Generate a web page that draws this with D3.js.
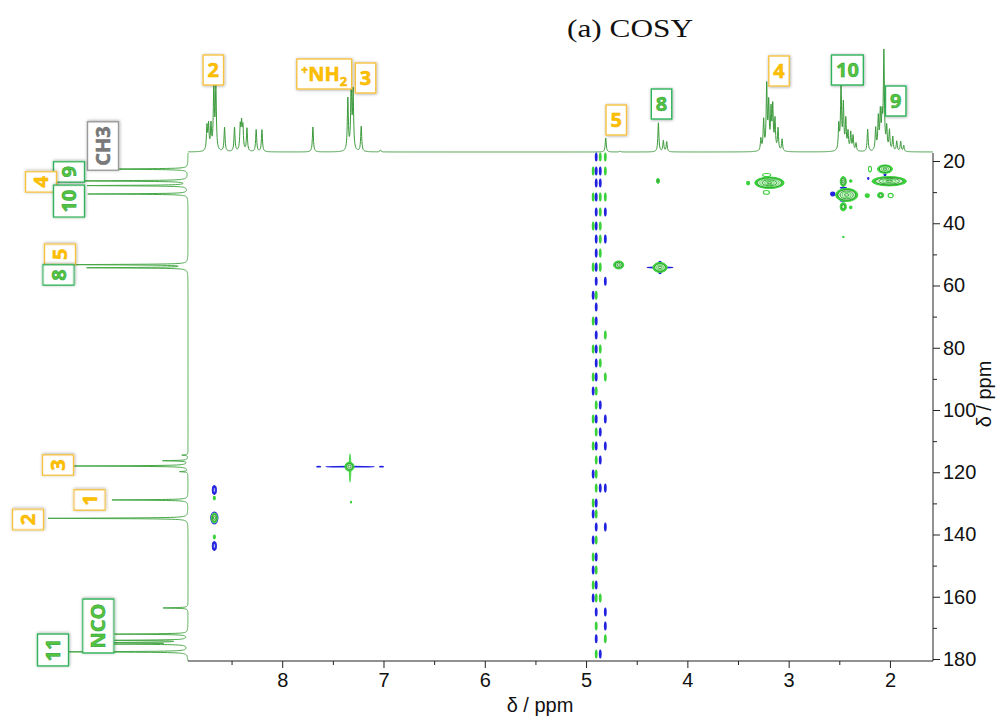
<!DOCTYPE html>
<html>
<head>
<meta charset="utf-8">
<script src="https://cdn.jsdelivr.net/npm/d3@7"></script>
<style>
  body { margin: 0; background: #fff; }
  svg { display: block; }
</style>
</head>
<body>
<svg id="chart" width="1003" height="724"></svg>
<script>
// ---------- axis ticks ----------
const xTickValues = [8, 7, 6, 5, 4, 3, 2];
const xMinorTicks = [8.5, 7.5, 6.5, 5.5, 4.5, 3.5, 2.5];
const yTickValues = [20, 40, 60, 80, 100, 120, 140, 160, 180];
const yMinorTicks = [30, 50, 70, 90, 110, 130, 150, 170];

// ---------- 1H projection: [ppm, intensity] ----------
const protonPeaks = [
  [8.743, 24], [8.727, 25], [8.703, 25], [8.675, 66], [8.655, 62],
  [8.569, 24], [8.471, 24], [8.414, 24], [8.401, 25], [8.388, 23],
  [8.348, 23], [8.257, 22], [8.200, 22], [7.697, 25],
  [7.352, 52], [7.319, 67], [7.300, 58], [7.220, 25], [7.030, 2],
  [4.806, 14], [4.665, 1],
  [4.286, 29], [4.237, 11], [4.204, 10],
  [3.274, 12], [3.247, 30], [3.217, 64], [3.197, 45], [3.174, 38],
  [3.157, 42], [3.135, 30], [3.105, 22], [3.065, 12],
  [2.505, 25], [2.483, 64], [2.460, 45], [2.436, 30], [2.414, 18],
  [2.387, 18], [2.364, 15], [2.335, 8],
  [2.220, 22], [2.141, 22], [2.115, 32], [2.095, 36], [2.078, 30],
  [2.060, 97], [2.032, 22], [2.005, 20], [1.972, 14], [1.933, 10],
  [1.894, 10], [1.864, 6]
];

// ---------- 13C projection: [ppm, intensity] ----------
const carbonPeaks = [
  [22.6, 100], [26.4, 130], [27.9, 100], [30.6, 100],
  [53.3, 113], [54.3, 100],
  [114.5, 6], [116.3, 25], [118.0, 115], [119.8, 8],
  [128.9, 76], [134.8, 140], [163.6, 25],
  [172.0, 73], [174.0, 71], [174.7, 72], [175.2, 70], [177.7, 125]
];

// ---------- cross peaks: [δH, δC, half-width H, half-width C, levels, phase] ----------
const crossPeaks = [
  [3.190, 27.0, 0.145, 1.85, 6, "g"],
  [3.217, 24.5, 0.040, 0.50, 1, "g"],
  [3.220, 30.1, 0.030, 0.60, 1, "g"],
  [3.400, 27.1, 0.015, 0.60, 1, "g"],
  [4.290, 26.4, 0.015, 0.80, 2, "g"],
  [2.565, 30.6, 0.020, 0.60, 1, "b"],
  [2.460, 28.6, 0.030, 0.15, 1, "b"],
  [2.460, 32.8, 0.030, 0.15, 1, "b"],
  [2.427, 30.9, 0.110, 2.10, 5, "g"],
  [2.461, 26.6, 0.030, 1.60, 3, "g"],
  [2.461, 34.7, 0.030, 1.30, 2, "g"],
  [2.387, 26.4, 0.012, 0.40, 1, "g"],
  [2.387, 34.9, 0.012, 0.40, 1, "g"],
  [2.049, 24.4, 0.010, 0.30, 1, "b"],
  [2.214, 25.6, 0.006, 0.30, 1, "b"],
  [2.049, 22.6, 0.074, 1.35, 4, "g"],
  [2.007, 26.5, 0.170, 1.50, 5, "g"],
  [2.197, 22.6, 0.015, 0.90, 1, "g"],
  [2.224, 31.1, 0.020, 0.60, 1, "g"],
  [2.092, 31.0, 0.030, 0.90, 2, "g"],
  [1.993, 31.1, 0.025, 0.70, 1, "g"],
  [2.460, 44.4, 0.006, 0.20, 1, "g"],
  [4.678, 53.4, 0.050, 1.30, 3, "g"],
  [4.270, 54.2, 0.130, 0.15, 1, "b"],
  [4.270, 52.6, 0.012, 0.40, 1, "b"],
  [4.270, 55.8, 0.012, 0.40, 1, "b"],
  [4.270, 54.2, 0.070, 1.60, 4, "g"],
  [7.330, 118.2, 0.240, 0.12, 1, "b"],
  [7.640, 118.2, 0.020, 0.10, 1, "b"],
  [7.020, 118.2, 0.020, 0.10, 1, "b"],
  [7.330, 118.6, 0.007, 4.50, 1, "g"],
  [7.336, 118.2, 0.045, 1.45, 3, "g"],
  [7.320, 129.6, 0.005, 0.30, 1, "g"],
  [8.670, 125.7, 0.020, 1.45, 2, "b"],
  [8.670, 128.3, 0.010, 0.60, 1, "g"],
  [8.670, 134.7, 0.035, 1.90, 1, "b"],
  [8.670, 134.7, 0.030, 1.60, 3, "g"],
  [8.670, 140.8, 0.010, 0.60, 1, "g"],
  [8.670, 143.7, 0.020, 1.45, 2, "b"]
];

// ---------- t1-noise ridge near the water line ----------
const streakColumns = [4.93, 4.90, 4.86, 4.81];
const streakRows = [
  [18.7, "-bgg"], [23.2, "gbbg"], [27.1, "-bb-"], [31.6, "gbgg"],
  [36.4, "-bgb"], [40.9, "gbg-"], [45.1, "-bgb"], [49.6, "-bg-"],
  [54.1, "gbg-"], [58.6, "-b-b"], [63.1, "bg--"], [66.9, "-b--"],
  [71.4, "gb--"], [75.9, "-b-g"], [80.4, "gbg-"], [84.9, "-bg-"],
  [89.4, "gb-g"], [93.9, "bg--"], [98.4, "-gb-"], [102.9, "gb-b"],
  [107.1, "-gb-"], [111.6, "gb-b"], [116.1, "-gb-"], [120.6, "bg--"],
  [125.1, "-gbb"], [129.9, "gb--"], [133.4, "bg--"], [137.6, "-b-b"],
  [141.8, "bg--"], [147.2, "gb--"], [151.4, "bg--"], [156.2, "gb--"],
  [160.4, "bgg-"], [164.9, "-b-b"], [169.4, "-g-b"], [173.5, "-b-g"],
  [178.4, "-gb-"]
];

// ---------- assignment labels ----------
const topLabels = [   // [text, δH, kind, box top]
  ["2", 8.68, "o", 55], ["NH2", 7.585, "o", 59], ["3", 7.177, "o", 63],
  ["5", 4.702, "o", 105], ["8", 4.255, "g", 89], ["4", 3.095, "o", 56],
  ["10", 2.42, "g", 55], ["9", 1.943, "g", 86]
];
const sideLabels = [  // [text, δC, kind, box centre x]
  ["CH3", 15.2, "k", 103], ["9", 23.5, "g", 69], ["4", 26.7, "o", 41],
  ["10", 32.9, "g", 69], ["5", 50.0, "o", 60], ["8", 56.6, "g", 58.5],
  ["3", 117.7, "o", 58], ["1", 128.9, "o", 89.5], ["2", 135.2, "o", 28],
  ["NCO", 169.4, "g", 98.3], ["11", 177.1, "g", 53]
];

// ---------- layout ----------
const svg = d3.select("#chart");
const x = d3.scaleLinear().domain([8.93, 1.575]).range([188, 933]);
const y = d3.scaleLinear().domain([20, 180]).range([161, 659]);
const yTop = d3.scaleLinear().domain([0, 100]).range([152, 52]);
const xSide = d3.scaleLinear().domain([0, 100]).range([188, 88]);
const plotTop = 153, plotBottom = 661;

const GREEN = "#3ad23a", DKGREEN = "#1c8f1c", BLUE = "#2121e0";
const TRACE = "#3b9a3b";

const defs = svg.append("defs");
const sh = defs.append("filter").attr("id", "shadow")
  .attr("x", "-30%").attr("y", "-30%").attr("width", "160%").attr("height", "160%");
sh.append("feDropShadow").attr("dx", 0.5).attr("dy", 0.5)
  .attr("stdDeviation", 1.4).attr("flood-color", "#000").attr("flood-opacity", 0.35);

// ---------- title ----------
svg.append("text")
  .attr("x", 567).attr("y", 37)
  .attr("font-family", "Liberation Serif, serif")
  .attr("font-size", 25)
  .attr("textLength", 126).attr("lengthAdjust", "spacingAndGlyphs")
  .attr("fill", "#111")
  .text("(a) COSY");

// ---------- 1D projections ----------
function lorentz(peaks, p, w) {
  let s = 0;
  for (const [p0, h] of peaks) s += h * w * w / ((p - p0) * (p - p0) + w * w);
  return s;
}
function samples(lo, hi, step, peaks) {
  const pts = d3.range(lo, hi, step).concat(peaks.map(d => d[0])).concat([hi]);
  return pts.filter(p => p >= lo && p <= hi).sort((a, b) => a - b);
}

const hPts = samples(1.575, 8.93, 0.0025, protonPeaks)
  .map(p => [p, lorentz(protonPeaks, p, 0.006)]);
svg.append("path")
  .datum(hPts)
  .attr("fill", "none").attr("stroke", TRACE).attr("stroke-width", 1)
  .attr("d", d3.line().x(d => x(d[0])).y(d => yTop(d[1])));

const cPts = samples(y.invert(plotTop), y.invert(plotBottom), 0.04, carbonPeaks)
  .map(p => [p, lorentz(carbonPeaks, p, 0.11)]);
svg.append("path")
  .datum(cPts)
  .attr("fill", "none").attr("stroke", "#48a848").attr("stroke-width", 1)
  .attr("d", d3.line().x(d => xSide(d[1])).y(d => y(d[0])));

// ---------- 2D contours ----------
const contours = svg.append("g");

const streak = [];
streakRows.forEach(([c, pat]) => {
  pat.split("").forEach((ph, i) => {
    if (ph !== "-") streak.push([streakColumns[i], c, ph]);
  });
});
contours.selectAll("ellipse.streak")
  .data(streak)
  .join("ellipse")
  .attr("class", "streak")
  .attr("cx", d => x(d[0]))
  .attr("cy", d => y(d[1]))
  .attr("rx", Math.abs(x(0.014) - x(0)))
  .attr("ry", Math.abs(y(1.45) - y(0)))
  .attr("fill", d => d[2] === "g" ? GREEN : BLUE);

crossPeaks.forEach(([h, c, wh, wc, n, ph]) => {
  const cx = x(h), cy = y(c);
  const rx = Math.abs(x(h + wh) - cx), ry = Math.abs(y(c + wc) - cy);
  const col = ph === "g" ? GREEN : BLUE;
  if (n === 1) {
    const small = rx < 2.2 && ry < 2.2;
    contours.append("ellipse")
      .attr("cx", cx).attr("cy", cy).attr("rx", rx).attr("ry", ry)
      .attr("fill", small ? col : "none")
      .attr("stroke", col).attr("stroke-width", 1.1);
    return;
  }
  for (let k = n; k >= 1; k--) {
    const e = contours.append("ellipse")
      .attr("cx", cx).attr("cy", cy)
      .attr("rx", rx * k / n).attr("ry", ry * k / n);
    if (k === n) {
      e.attr("fill", col).attr("stroke", col).attr("stroke-width", 1);
    } else if (k === n - 1) {
      e.attr("fill", ph === "g" ? "#d9f6d9" : "#d9d9fb")
        .attr("stroke", ph === "g" ? DKGREEN : BLUE).attr("stroke-width", 0.8);
    } else {
      e.attr("fill", "none")
        .attr("stroke", k % 2 ? (ph === "g" ? DKGREEN : BLUE) : col)
        .attr("stroke-width", 0.8);
    }
  }
});

// ---------- axes ----------
const axisColor = "#222";
const xAxis = svg.append("g").attr("transform", `translate(0,${plotBottom})`)
  .call(d3.axisBottom(x).tickValues(xTickValues).tickSize(7).tickSizeOuter(0).tickPadding(5));
svg.append("g").attr("transform", `translate(0,${plotBottom})`)
  .call(d3.axisBottom(x).tickValues(xMinorTicks).tickSize(4).tickSizeOuter(0).tickFormat(""))
  .select(".domain").remove();

const yAxis = svg.append("g").attr("transform", `translate(933,0)`)
  .call(d3.axisRight(y).tickValues(yTickValues).tickSize(7).tickSizeOuter(0).tickPadding(3));
svg.append("g").attr("transform", `translate(933,0)`)
  .call(d3.axisRight(y).tickValues(yMinorTicks).tickSize(4).tickSizeOuter(0).tickFormat(""))
  .select(".domain").remove();

yAxis.select(".domain").attr("d", `M0,${plotTop}V${plotBottom}`);
xAxis.select(".domain").attr("d", `M${x.range()[0]},0H${x.range()[1]}`);

svg.selectAll(".domain, .tick line").attr("stroke", axisColor).attr("stroke-width", 1);
svg.selectAll(".tick text")
  .attr("font-family", "Liberation Sans, Arial, sans-serif")
  .attr("font-size", 20).attr("fill", "#111");

svg.append("text")
  .attr("x", 540).attr("y", 712)
  .attr("text-anchor", "middle")
  .attr("font-family", "Liberation Sans, Arial, sans-serif")
  .attr("font-size", 20).attr("fill", "#111")
  .text("δ / ppm");
svg.append("text")
  .attr("transform", "translate(991,394) rotate(-90)")
  .attr("text-anchor", "middle")
  .attr("font-family", "Liberation Sans, Arial, sans-serif")
  .attr("font-size", 20).attr("fill", "#111")
  .text("δ / ppm");

// ---------- label boxes ----------
const kinds = {
  o: { text: "#ffc000", stroke: "#f2b400", border: "#f5c242" },
  g: { text: "#56c33c", stroke: "#1f9f3f", border: "#2fb35a" },
  k: { text: "#7a7a7a", stroke: "#6a6a6a", border: "#9a9a9a" }
};
const labelFont = "Open Sans, Noto Sans, sans-serif";

function writeLabel(t, txt, k) {
  t.attr("font-family", labelFont).attr("font-weight", 700)
    .attr("font-size", 20)
    .attr("fill", kinds[k].text)
    .attr("stroke", kinds[k].stroke).attr("stroke-width", 0.5)
    .attr("text-anchor", "middle");
  if (txt === "NH2") {
    t.append("tspan").attr("font-size", 12).attr("dy", -7).text("+");
    t.append("tspan").attr("dy", 7).text("NH");
    t.append("tspan").attr("font-size", 13).attr("dy", 5).text("2");
  } else {
    t.text(txt);
  }
}

const labelLayer = svg.append("g");
topLabels.forEach(([txt, ppm, k, top]) => {
  const g = labelLayer.append("g");
  const rect = g.append("rect");
  const t = g.append("text");
  writeLabel(t, txt, k);
  const cx = x(ppm);
  const w = t.node().getComputedTextLength() + 9;
  const hgt = 30;
  t.attr("x", cx).attr("y", top + hgt / 2 + 7);
  rect.attr("x", cx - w / 2).attr("y", top).attr("width", w).attr("height", hgt)
    .attr("fill", "#fff").attr("stroke", kinds[k].border).attr("stroke-width", 1.4)
    .attr("filter", "url(#shadow)");
});

sideLabels.forEach(([txt, ppm, k, cx]) => {
  const cy = y(ppm);
  const g = labelLayer.append("g").attr("transform", `translate(${cx},${cy}) rotate(-90)`);
  const rect = g.append("rect");
  const t = g.append("text");
  writeLabel(t, txt, k);
  const w = t.node().getComputedTextLength() + 9;
  const hgt = 31;
  t.attr("x", 0).attr("y", 7);
  rect.attr("x", -w / 2).attr("y", -hgt / 2).attr("width", w).attr("height", hgt)
    .attr("fill", "#fff").attr("stroke", kinds[k].border).attr("stroke-width", 1.4)
    .attr("filter", "url(#shadow)");
});
</script>
</body>
</html>
